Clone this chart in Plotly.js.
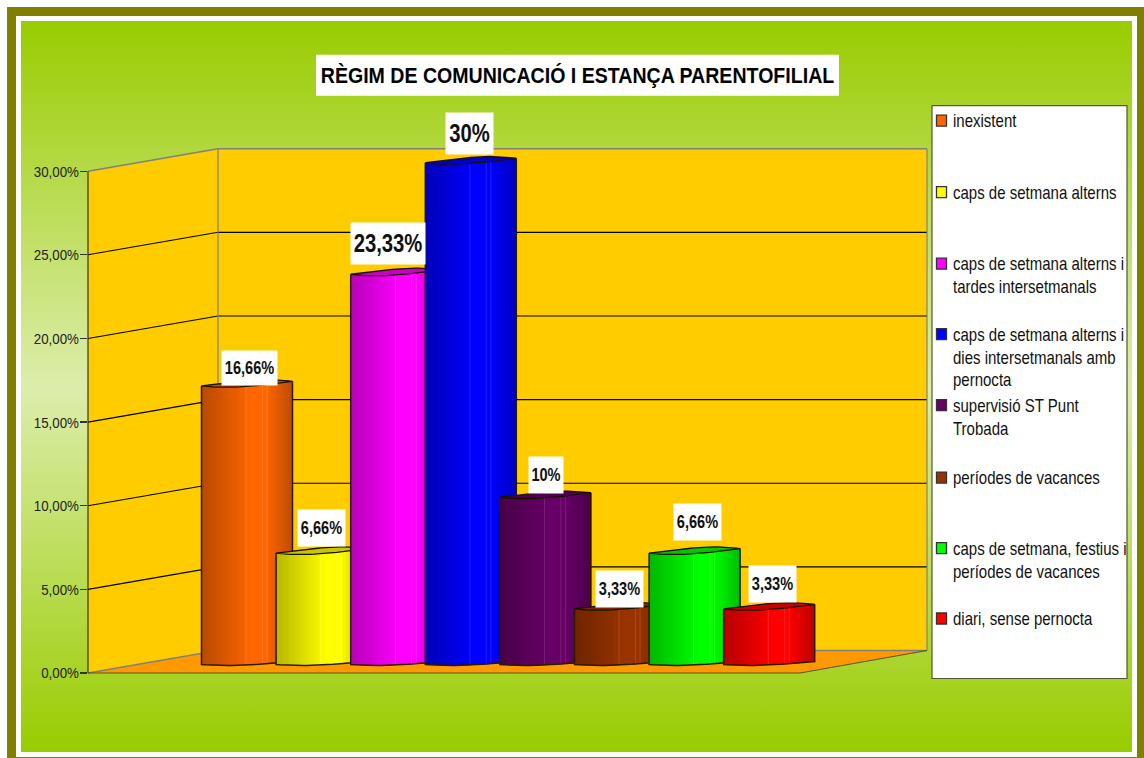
<!DOCTYPE html>
<html>
<head>
<meta charset="utf-8">
<script src="https://cdn.plot.ly/plotly-3.0.1.min.js"></script>
<style>
html,body{margin:0;padding:0;background:#fff;width:1144px;height:758px;overflow:hidden}
.b{position:absolute}
#f1{left:7px;top:7px;width:1137px;height:751px;background:#808000}
#f2{left:16px;top:16px;width:1121px;height:741px;background:#fff}
#f3{left:21px;top:21px;width:1111px;height:731px;background:linear-gradient(180deg,#99CC00 0%,#DDEDAC 50%,#99CC00 100%)}
#chart{left:0;top:0;width:1144px;height:758px}
</style>
</head>
<body>
<div class="b" id="f1"></div><div class="b" id="f2"></div><div class="b" id="f3"></div>
<div class="b" id="chart"></div>
<script>
const categories = ["inexistent","caps de setmana alterns","caps de setmana alterns i<br>tardes intersetmanals","caps de setmana alterns i<br>dies intersetmanals amb<br>pernocta","supervisió ST Punt<br>Trobada","períodes de vacances","caps de setmana, festius i<br>períodes de vacances","diari, sense pernocta"];
const values = [16.66,6.66,23.33,30,10,3.33,6.66,3.33];
const valueLabels = ["16,66%","6,66%","23,33%","30%","10%","3,33%","6,66%","3,33%"];
const colors = ["#FF6600","#FFFF00","#FF00FF","#0000FF","#660066","#993300","#00FF00","#FF0000"];
const tickVals = [0,5,10,15,20,25,30];
const titleText = "RÈGIM DE COMUNICACIÓ I ESTANÇA PARENTOFILIAL";

const W=1144,H=758, L=88,R=927,T=171.5,B=673.5;
const pxPerUnit=(B-T)/30, step=74.6, cx0=247, halfW=45.5, depthX=130, depthY=22.5;
const yMax=33, Top=B-yMax*pxPerUnit;
const FONT='"Liberation Sans",Arial,sans-serif';
const px=x=>(x-L)/(R-L), py=y=>(B-y)/(B-Top);
const xAt=(i,u)=>i+(u-0.5)*(2*halfW)/step;
const toUnits=p=>p/pxPerUnit;
const bottomOff=u=>8.5+3*u-2*Math.sin(Math.PI*Math.pow(u,0.8));
const topOff=u=>4.5*u-3*Math.sin(Math.PI*Math.pow(u,0.8));
const backOff=u=>4.5*u+3.2*Math.sin(Math.PI*Math.pow(u,1.4));
function shade(hex,k){
  const n=parseInt(hex.slice(1),16);
  const c=[n>>16&255,n>>8&255,n&255].map(v=>k<=1?v*k:v+(255-v)*(k-1));
  return `rgb(${c.map(Math.round).join(',')})`;
}
function shadeAt(u){
  const st=[[0,.72],[.12,.78],[.3,.87],[.46,.95],[.54,1],[.7,1],[.84,.88],[1,.74]];
  for(let j=1;j<st.length;j++) if(u<=st[j][0]){
    const a=st[j-1],b=st[j]; return a[1]+(b[1]-a[1])*(u-a[0])/(b[0]-a[0]);
  }
  return .74;
}
const N=30, stripeU=[.49,.67,.72];
const traces=[];
values.forEach((v,i)=>{
  const xs=[],hs=[],bs=[],cs=[],ws=[];
  for(let s=0;s<N;s++){
    const u=(s+.5)/N, u0=s/N, u1=Math.min(1,(s+2)/N);
    xs.push((xAt(i,u0)+xAt(i,u1))/2); bs.push(toUnits(bottomOff(u)));
    hs.push(v+toUnits(topOff(u)-bottomOff(u)+8.5));
    ws.push(xAt(i,u1)-xAt(i,u0));
    cs.push(shade(colors[i],shadeAt(u)));
  }
  stripeU.forEach(u=>{
    xs.push(xAt(i,u)); bs.push(toUnits(bottomOff(u)));
    hs.push(v+toUnits(topOff(u)-bottomOff(u)+8.5));
    ws.push(1/step);
    cs.push(shade(colors[i],1.12));
  });
  traces.push({type:'bar',name:categories[i].replace(/<br>/g,' '),x:xs,y:hs,base:bs,width:ws,
    marker:{color:cs,line:{width:0}},zorder:i*3,hoverinfo:'skip',showlegend:false});
  const us=[];for(let s=0;s<=24;s++)us.push(s/24);
  const ox=[xAt(i,0)],oy=[v+toUnits(8.5+topOff(0))];
  us.forEach(u=>{ox.push(xAt(i,u));oy.push(toUnits(bottomOff(u)));});
  ox.push(xAt(i,1));oy.push(v+toUnits(8.5+topOff(1)));
  traces.push({type:'scatter',mode:'lines',x:ox,y:oy,line:{color:'#2a1a00',width:1.5},
    zorder:i*3+1,hoverinfo:'skip',showlegend:false});
  const ex=[],ey=[];
  us.forEach(u=>{ex.push(xAt(i,u));ey.push(v+toUnits(8.5+topOff(u)));});
  us.slice().reverse().forEach(u=>{ex.push(xAt(i,u));ey.push(v+toUnits(8.5+backOff(u)));});
  ex.push(ex[0]);ey.push(ey[0]);
  traces.push({type:'scatter',mode:'lines',x:ex,y:ey,fill:'toself',fillcolor:shade(colors[i],.78),
    line:{color:'#1a1000',width:1.3},zorder:i*3+2,hoverinfo:'skip',showlegend:false});
});

const P=(x,y)=>`${px(x)},${py(y)}`;
const poly=(pts)=>'M'+pts.map(p=>P(p[0],p[1])).join('L')+'Z';
const shapes=[];
const pShape=(path,fill,lineC,lineW)=>({type:'path',xref:'paper',yref:'paper',path,fillcolor:fill,
  line:{color:lineC,width:lineW},layer:'below'});
shapes.push(pShape(poly([[L+depthX,T-depthY],[R,T-depthY],[R,B-depthY],[L+depthX,B-depthY]]),'#FFCC00','rgba(0,0,0,0)',0));
shapes.push(pShape(poly([[L,T],[L+depthX,T-depthY],[L+depthX,B-depthY],[L,B]]),'#FFCC00','rgba(0,0,0,0)',0));
shapes.push(pShape(poly([[L,B],[L+depthX,B-depthY],[R,B-depthY],[800,B]]),'#FF9900','rgba(0,0,0,0)',0));
tickVals.forEach(t=>{
  const y=B-t*pxPerUnit, edge=(t===0||t===30);
  shapes.push(pShape(`M${P(L,y)}L${P(L+depthX,y-depthY)}L${P(R,y-depthY)}`,'rgba(0,0,0,0)',edge?'#808080':'#000000',edge?1.5:1.1));
});
shapes.push(pShape(`M${P(L+depthX,T-depthY)}L${P(L+depthX,B-depthY)}`,'rgba(0,0,0,0)','#808080',1.2));
shapes.push(pShape(`M${P(R,T-depthY)}L${P(R,B-depthY)}`,'rgba(0,0,0,0)','#808080',1.2));
shapes.push(pShape(`M${P(R,B-depthY)}L${P(800,B)}L${P(L,B)}`,'rgba(0,0,0,0)','#555533',1.2));
shapes.push(pShape(`M${P(L,T)}L${P(L,B)}`,'rgba(0,0,0,0)','#333',1.2));
shapes.push({type:'rect',xref:'paper',yref:'paper',x0:px(316),x1:px(839),y0:py(96),y1:py(55),fillcolor:'#fff',line:{width:0},layer:'below'});
shapes.push({type:'rect',xref:'paper',yref:'paper',x0:px(932),x1:px(1127),y0:py(679),y1:py(106),fillcolor:'#fff',line:{color:'#55553a',width:1.2},layer:'below'});

const legendY=[121,192.5,264,334.5,405.5,478,548.5,619];
const annotations=[];
categories.forEach((c,i)=>{
  const y=legendY[i];
  shapes.push({type:'rect',xref:'paper',yref:'paper',x0:px(936.5),x1:px(946.5),y0:py(y+5.5),y1:py(y-5.5),
    fillcolor:colors[i],line:{color:'#333',width:1.3},layer:'below'});
  annotations.push({xref:'paper',yref:'paper',x:px(952),y:py(y-10.5),xanchor:'left',yanchor:'top',align:'left',
    text:c,showarrow:false,font:{family:FONT,size:17.5,color:'#111'},borderpad:0});
});
const lblDx=[2.5,0,-8,-1,1,-0.5,2.5,3.5];
const lblBottom=[386,547,265,155,494,608,541,603];
const lblW=[55,47,74,47,34,47,47,47];
const lblH=[34,36,41,41,36,36,36,36];
const lblSize=[18,18,25,25,18,18,18,18];
values.forEach((v,i)=>{
  annotations.push({xref:'x',yref:'y',x:xAt(i,.5)+lblDx[i]/step,y:v,
    yanchor:'bottom',xanchor:'center',yshift:(B-v*pxPerUnit)-lblBottom[i],
    width:lblW[i],height:lblH[i],bgcolor:'#fff',borderpad:0,showarrow:false,text:'<b>'+valueLabels[i]+'</b>',
    font:{family:FONT,size:lblSize[i],color:'#111'},valign:'middle',align:'center'});
});

const layout={width:W,height:H,autosize:false,paper_bgcolor:'rgba(0,0,0,0)',plot_bgcolor:'rgba(0,0,0,0)',
  margin:{l:L,r:W-R,t:Top,b:H-B,pad:0},separators:',.',barmode:'overlay',showlegend:false,
  title:{text:'<b>'+titleText+'</b>',x:577.5/W,xanchor:'center',xref:'container',y:1-75.5/H,yref:'container',yanchor:'middle',
    font:{family:FONT,size:22,color:'#000'}},
  xaxis:{range:[(L-cx0)/step,(R-cx0)/step],visible:false,fixedrange:true},
  yaxis:{range:[0,yMax],tickmode:'linear',tick0:0,dtick:5,tickformat:'.2f',ticksuffix:'%',ticks:'outside',ticklen:7,tickwidth:1.2,
    tickcolor:'#333',showline:false,showgrid:false,zeroline:false,fixedrange:true,
    tickfont:{family:FONT,size:15.5,color:'#222'}},
  shapes,annotations};

// the reference uses horizontally condensed type: squeeze real text about an anchor
function squeeze(el,k,anchor,dx){
  const b=el.getBBox(), o=b.x+b.width*anchor, old=el.getAttribute('transform')||'';
  el.setAttribute('transform',`${old} translate(${o*(1-k)+(dx||0)},0) scale(${k},1)`);
}
Plotly.newPlot('chart',traces,layout,{displayModeBar:false,staticPlot:true}).then(gd=>{
  gd.querySelectorAll('.annotation').forEach((a,i)=>{
    const t=a.querySelector('text'); if(!t)return;
    a.querySelectorAll('[clip-path]').forEach(e=>e.removeAttribute('clip-path'));
    t.style.clipPath='none';
    if(i<categories.length) squeeze(t,.858,0); else squeeze(t,.81,.5);
  });
  const tt=gd.querySelector('.gtitle'); if(tt) squeeze(tt,.89,.5);
  gd.querySelectorAll('.ytick text').forEach(t=>squeeze(t,.86,1,2));
});
</script>
</body>
</html>
